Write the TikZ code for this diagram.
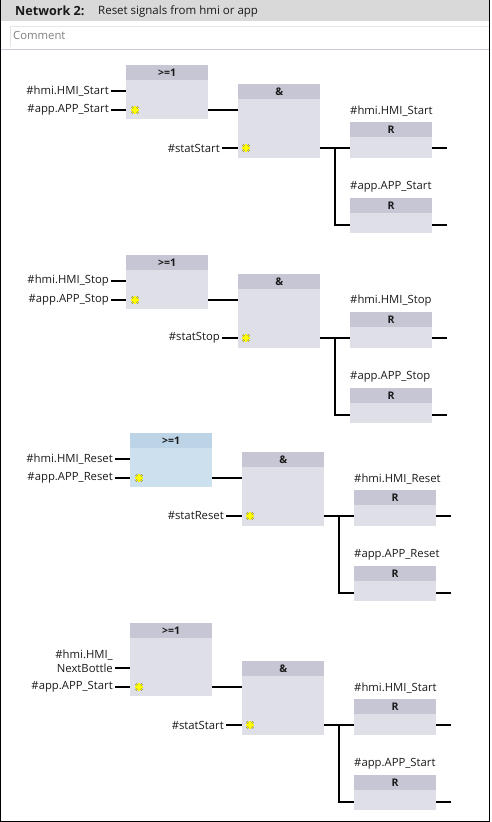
\documentclass[tikz,border=0pt]{standalone}
\usepackage{fontspec}
\setmainfont{Open Sans}
\usetikzlibrary{positioning}
\definecolor{boxgray}{HTML}{DFDFE7}
\definecolor{headgray}{HTML}{C6C6D4}
\definecolor{boxblue}{HTML}{CCE0EE}
\definecolor{headblue}{HTML}{BDD4E6}
\definecolor{bargray}{HTML}{D9D9D9}
\definecolor{rulegray}{HTML}{CACADC}
\definecolor{txtdark}{HTML}{1A1A1A}
\definecolor{stargold}{HTML}{FFFF00}
\definecolor{staredge}{HTML}{6E6E3A}
\tikzset{
	openin/.pic={
		\foreach \a in {0,45,90,135}
			\draw[staredge, line width=1.9pt] (\a:4.4pt) -- (\a+180:4.4pt);
		\foreach \a in {0,45,90,135}
			\draw[stargold, line width=1.2pt] (\a:4pt) -- (\a+180:4pt);
	}
}

\begin{document}
\begin{tikzpicture}[x=1pt, y=-1pt, font=\fontsize{11.3}{13}\selectfont, text=txtdark,
		wire/.style={line width=2.4pt},
		gate/.style 2 args={fill=#1, inner sep=0pt, anchor=north west, minimum width=82pt,
			path picture={\fill[#2] (path picture bounding box.north west) rectangle ([yshift=-15pt]path picture bounding box.north east);}},
		headtxt/.style={inner sep=0pt, font=\fontsize{10.5}{12}\selectfont\bfseries},
		inlbl/.style={anchor=east, align=right, inner sep=2pt, font=\fontsize{11.3}{14}\selectfont},
		rlbl/.style={anchor=west, inner sep=0pt}]
	\useasboundingbox (0,0) rectangle (492,822);
	\fill[bargray] (1,0) rectangle (489,21);
	\node[anchor=west, inner sep=0pt, font=\fontsize{12.6}{14}\selectfont\bfseries] (netno) at (15,11) {Network 2:};
	\node[anchor=west, inner sep=0pt, font=\fontsize{11.5}{13}\selectfont] (nettitle) at (98,11) {Reset signals from hmi or app};
	\draw[gray!20] (10,47) -- (10,26) -- (489,26);
	\node[anchor=west, inner sep=0pt, text=gray] (comment) at (13,35) {Comment};
	\draw[rulegray] (1,49) -- (489,49);
	\draw[line width=1.2pt] (0.6,0) -- (0.6,821.4) -- (489.6,821.4) -- (489.6,0);
	\foreach \i/\dx/\T/\e/\s/\hm/\lo/\fc/\hc in {
			1/0/65/0/Start/{\#hmi.HMI\_Start}/0/boxgray/headgray,
			2/0/255/0/Stop/{\#hmi.HMI\_Stop}/0/boxgray/headgray,
			3/4/433/0/Reset/{\#hmi.HMI\_Reset}/0/boxblue/headblue,
			4/4/623/19/Start/{\#hmi.HMI\_\\NextBottle}/7/boxgray/headgray}{
		\node[gate={\fc}{\hc}, minimum height=54+\e] (or\i) at (126+\dx, \T) {};
		\node[headtxt] (orh\i) at ([yshift=-7.5pt]or\i.north) {>=1};
		\node[gate={boxgray}{headgray}, minimum height=74] (and\i) at (238+\dx, \T+19+\e) {};
		\node[headtxt] (andh\i) at ([yshift=-7.5pt]and\i.north) {\&};
		\node[gate={boxgray}{headgray}, minimum height=36] (ra\i) at (350+\dx, \T+57+\e) {};
		\node[headtxt] (rah\i) at ([yshift=-7.5pt]ra\i.north) {R};
		\node[gate={boxgray}{headgray}, minimum height=35] (rb\i) at (350+\dx, \T+133+\e) {};
		\node[headtxt] (rbh\i) at ([yshift=-7.5pt]rb\i.north) {R};
		\node[rlbl] (ral\i) at ([yshift=11pt]ra\i.north west) {\#hmi.HMI\_\s};
		\node[rlbl] (rbl\i) at ([yshift=11pt]rb\i.north west) {\#app.APP\_\s};
		\coordinate (hin\i) at (111+\dx, \T+26+\e);
		\coordinate (ain\i) at (111+\dx, \T+45+\e);
		\coordinate (sin\i) at (222+\dx, \T+83+\e);
		\coordinate (br\i) at (335+\dx, \T+83+\e);
		\coordinate (rbin\i) at (350+\dx, \T+160+\e);
		\coordinate (qa\i) at (447+\dx, \T+83+\e);
		\coordinate (qb\i) at (447+\dx, \T+160+\e);
		\node[inlbl] (hl\i) at ([yshift=\lo]hin\i) {\hm};
		\node[inlbl] (al\i) at (ain\i) {\#app.APP\_\s};
		\node[inlbl] (sl\i) at (sin\i) {\#stat\s};
		\draw[wire] (hin\i) -- (hin\i -| or\i.west);
		\draw[wire] (ain\i) -- (ain\i -| or\i.west);
		\draw[wire] (or\i.east |- ain\i) -- (and\i.west |- ain\i);
		\draw[wire] (sin\i) -- (sin\i -| and\i.west);
		\draw[wire] (and\i.east |- sin\i) -- (ra\i.west |- sin\i);
		\draw[wire] (br\i) |- (rbin\i);
		\draw[wire] (ra\i.east |- qa\i) -- (qa\i);
		\draw[wire] (rb\i.east |- qb\i) -- (qb\i);
		\pic at ([xshift=9pt]ain\i -| or\i.west) {openin};
		\pic at ([xshift=8pt]sin\i -| and\i.west) {openin};
	}
\end{tikzpicture}
\end{document}
